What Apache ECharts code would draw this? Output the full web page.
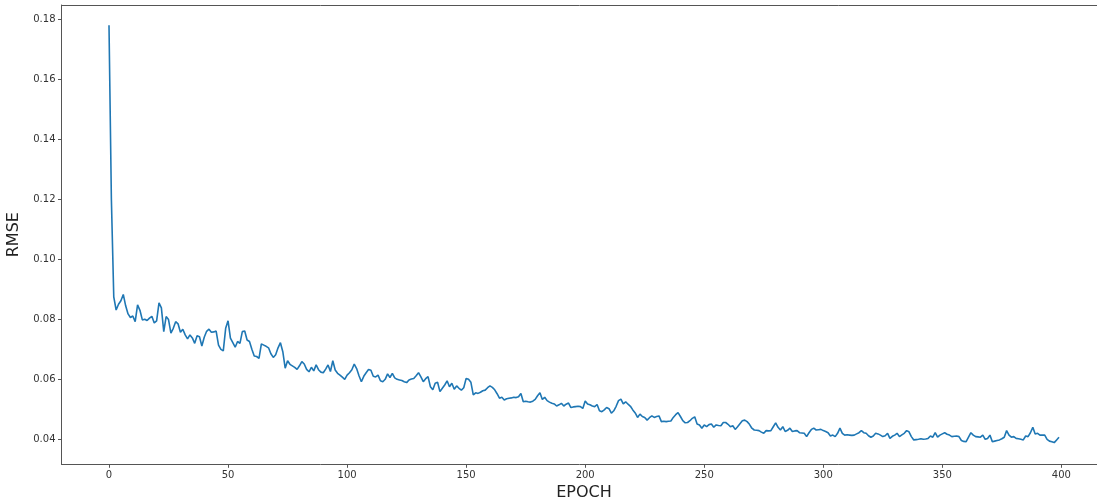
<!DOCTYPE html>
<html>
<head>
<meta charset="utf-8">
<script src="https://cdn.jsdelivr.net/npm/echarts@6/dist/echarts.min.js"></script>
<style>
html,body{margin:0;padding:0;background:#fff;}
#chart{width:1097px;height:498px;}
</style>
</head>
<body>
<div id="chart"></div>
<script>
const rmse = [
0.178, 0.120, 0.0875, 0.0831, 0.0850, 0.0862, 0.0883, 0.0845, 0.0818, 0.0806,
0.0811, 0.0792, 0.0848, 0.0830, 0.0798, 0.0800, 0.0796, 0.0804, 0.0810, 0.0788,
0.0795, 0.0855, 0.0838, 0.0759, 0.0809, 0.0799, 0.0754, 0.0770, 0.0792, 0.0785,
0.0757, 0.0767, 0.0748, 0.0735, 0.0748, 0.0738, 0.0720, 0.0745, 0.0742, 0.0711,
0.0740, 0.0760, 0.0767, 0.0757, 0.0758, 0.0761, 0.0714, 0.0700, 0.0695, 0.0770,
0.0795, 0.0737, 0.0722, 0.0707, 0.0726, 0.0720, 0.0759, 0.0761, 0.0731, 0.0726,
0.0700, 0.0678, 0.0676, 0.0670, 0.0718, 0.0714, 0.0710, 0.0705, 0.0685, 0.0673,
0.0682, 0.0705, 0.0722, 0.0692, 0.0637, 0.0662, 0.0650, 0.0645, 0.0640, 0.0633,
0.0645, 0.0659, 0.0651, 0.0633, 0.0625, 0.0640, 0.0628, 0.0648, 0.0632, 0.0624,
0.0622, 0.0634, 0.0648, 0.0626, 0.0662, 0.0631, 0.0620, 0.0614, 0.0607, 0.0600,
0.0614, 0.0622, 0.0632, 0.0651, 0.0636, 0.0612, 0.0592, 0.0610, 0.0622, 0.0633,
0.0630, 0.0610, 0.0608, 0.0614, 0.0595, 0.0592, 0.0600, 0.0618, 0.0606, 0.0620,
0.0605, 0.0600, 0.0598, 0.0596, 0.0592, 0.0589, 0.0598, 0.0601, 0.0603, 0.0612,
0.0622, 0.0608, 0.0592, 0.0602, 0.0609, 0.0575, 0.0565, 0.0587, 0.0590, 0.0559,
0.0570, 0.0581, 0.0595, 0.0575, 0.0587, 0.0567, 0.0578, 0.0570, 0.0564, 0.0572,
0.0603, 0.0600, 0.0590, 0.0548, 0.0555, 0.0553, 0.0557, 0.0562, 0.0564, 0.0572,
0.0578, 0.0573, 0.0565, 0.0552, 0.0537, 0.0540, 0.0531, 0.0535, 0.0537, 0.0538,
0.0540, 0.0539, 0.0542, 0.0553, 0.0525, 0.0527, 0.0525, 0.0524, 0.0527, 0.0533,
0.0545, 0.0555, 0.0533, 0.0540, 0.0529, 0.0524, 0.0520, 0.0518, 0.0511, 0.0515,
0.0520, 0.0511, 0.0517, 0.0521, 0.0506, 0.0508, 0.0509, 0.0510, 0.0509, 0.0503,
0.0528, 0.0518, 0.0515, 0.0511, 0.0509, 0.0516, 0.0495, 0.0492, 0.0498, 0.0506,
0.0502, 0.0487, 0.0495, 0.0510, 0.0529, 0.0534, 0.0518, 0.0525, 0.0517, 0.0510,
0.0498, 0.0488, 0.0473, 0.0484, 0.0476, 0.0473, 0.0464, 0.0472, 0.0478, 0.0473,
0.0476, 0.0478, 0.0459, 0.0460, 0.0459, 0.0460, 0.0461, 0.0473, 0.0482, 0.0489,
0.0476, 0.0462, 0.0455, 0.0456, 0.0462, 0.0470, 0.0475, 0.0451, 0.0448, 0.0437,
0.0448, 0.0442, 0.0449, 0.0451, 0.0440, 0.0448, 0.0446, 0.0445, 0.0456, 0.0456,
0.0450, 0.0442, 0.0445, 0.0433, 0.0442, 0.0452, 0.0462, 0.0464, 0.0459, 0.0450,
0.0437, 0.0431, 0.0430, 0.0429, 0.0424, 0.0420, 0.0429, 0.0428, 0.0429, 0.0442,
0.0455, 0.0440, 0.0431, 0.0442, 0.0426, 0.0430, 0.0437, 0.0426, 0.0428, 0.0429,
0.0422, 0.0421, 0.0420, 0.0409, 0.0422, 0.0433, 0.0437, 0.0431, 0.0432, 0.0433,
0.0429, 0.0426, 0.0422, 0.0411, 0.0414, 0.0409, 0.0420, 0.0437, 0.0420, 0.0414,
0.0415, 0.0414, 0.0413, 0.0414, 0.0418, 0.0422, 0.0429, 0.0422, 0.0420, 0.0412,
0.0407, 0.0411, 0.0420, 0.0418, 0.0414, 0.0409, 0.0412, 0.0420, 0.0403, 0.0410,
0.0414, 0.0420, 0.0409, 0.0415, 0.0420, 0.0429, 0.0425, 0.0409, 0.0398, 0.0399,
0.0400, 0.0402, 0.0400, 0.0401, 0.0403, 0.0411, 0.0407, 0.0422, 0.0407, 0.0414,
0.0418, 0.0422, 0.0417, 0.0414, 0.0409, 0.0410, 0.0411, 0.0409, 0.0396, 0.0393,
0.0392, 0.0407, 0.0422, 0.0414, 0.0409, 0.0408, 0.0407, 0.0414, 0.0400, 0.0403,
0.0414, 0.0392, 0.0394, 0.0396, 0.0398, 0.0402, 0.0407, 0.0429, 0.0414, 0.0407,
0.0409, 0.0403, 0.0402, 0.0400, 0.0398, 0.0411, 0.0409, 0.0422, 0.0440, 0.0418,
0.0420, 0.0414, 0.0414, 0.0414, 0.0400, 0.0394, 0.0392, 0.0389, 0.0398, 0.0407
];
const epochs = rmse.map((_, i) => i);
const xTicks = [0, 50, 100, 150, 200, 250, 300, 350, 400];
const yTicks = [0.04, 0.06, 0.08, 0.10, 0.12, 0.14, 0.16, 0.18];
const xName = 'EPOCH';
const yName = 'RMSE';

const seriesData = epochs.map((e, i) => [e, rmse[i]]);
const spine = '#555';
const font = 'DejaVu Sans';
const xMin = -19.95, xMax = 418.95;

const chart = echarts.init(document.getElementById('chart'), null, {renderer: 'canvas'});
chart.setOption({
  animation: false,
  backgroundColor: '#ffffff',
  grid: {
    left: 61.5, top: 5, width: 1045, height: 459.3,
    outerBoundsMode: 'none', containLabel: false, show: false
  },
  xAxis: [{
    type: 'value',
    min: xMin, max: xMax,
    name: xName, nameLocation: 'middle', nameGap: 17,
    nameTextStyle: {fontFamily: font, fontSize: 16, color: '#222'},
    axisLine: {show: true, onZero: false, lineStyle: {color: spine, width: 1}},
    axisTick: {show: true, length: 3.5, inside: false, customValues: xTicks, lineStyle: {color: spine, width: 1}},
    axisLabel: {show: true, customValues: xTicks, margin: 6, fontFamily: font, fontSize: 10, color: '#333',
      formatter: v => String(v)},
    splitLine: {show: false}
  }, {
    type: 'value', position: 'top',
    min: xMin, max: xMax,
    axisLine: {show: true, onZero: false, lineStyle: {color: spine, width: 1}},
    axisTick: {show: false}, axisLabel: {show: false}, splitLine: {show: false}
  }],
  yAxis: {
    type: 'value',
    min: 0.03167, max: 0.18477,
    name: yName, nameLocation: 'middle', nameGap: 31, nameRotate: 90,
    nameTextStyle: {fontFamily: font, fontSize: 16, color: '#222'},
    axisLine: {show: true, onZero: false, lineStyle: {color: spine, width: 1}},
    axisTick: {show: true, length: 3.5, inside: false, customValues: yTicks, lineStyle: {color: spine, width: 1}},
    axisLabel: {show: true, customValues: yTicks, margin: 6, fontFamily: font, fontSize: 10, color: '#333',
      formatter: v => v.toFixed(2)},
    splitLine: {show: false}
  },
  series: [{
    type: 'line',
    xAxisIndex: 0,
    data: seriesData,
    showSymbol: false,
    symbol: 'none',
    lineStyle: {color: '#1f77b4', width: 1.6},
    clip: true
  }]
});
</script>
</body>
</html>
